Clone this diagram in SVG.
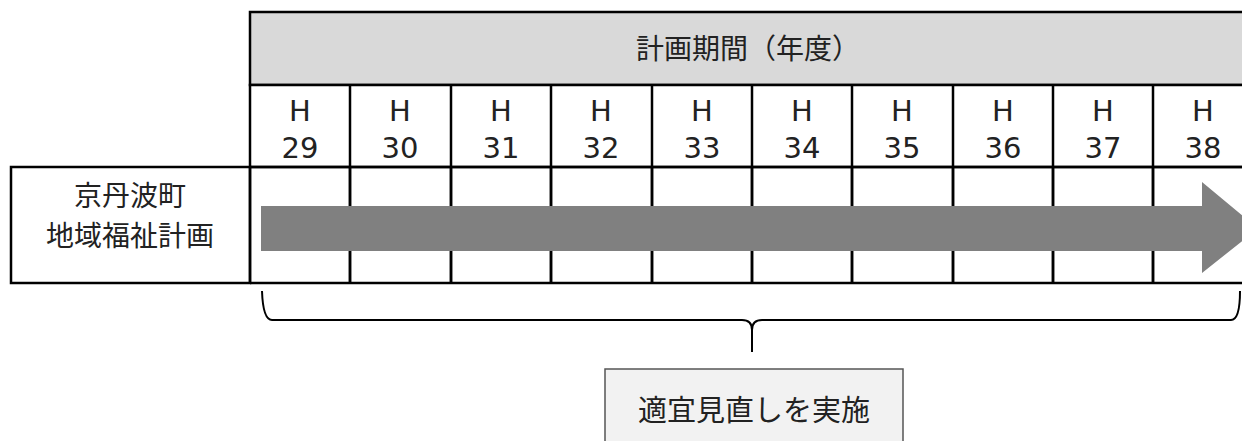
<svg xmlns="http://www.w3.org/2000/svg" width="1242" height="441" viewBox="0 0 1242 441">
<style>
.ln{stroke:#000;stroke-width:2.5}
.jp{font-family:"Noto Sans CJK JP","Noto Sans",sans-serif;fill:#222}
.yr{font-family:"DejaVu Sans","Noto Sans",sans-serif;font-size:29px;fill:#222;text-anchor:middle}
</style>
<rect width="1242" height="441" fill="#fff"/>
<g id="header">
<rect x="250" y="12" width="1004" height="73" fill="#d9d9d9" class="ln"/>
<text class="jp" x="748" y="59" font-size="28" text-anchor="middle">計画期間（年度）</text>
</g>
<g id="years">
<rect x="250" y="85" width="1004" height="82" fill="#fff" class="ln"/>
<path class="ln" fill="none" d="M350 85V283M451 85V283M551 85V283M652 85V283M752 85V283M852 85V283M953 85V283M1053 85V283M1153 85V283"/>
<g>
<text class="yr" x="300" y="121">H</text><text class="yr" x="300" y="158">29</text>
<text class="yr" x="400" y="121">H</text><text class="yr" x="400" y="158">30</text>
<text class="yr" x="501" y="121">H</text><text class="yr" x="501" y="158">31</text>
<text class="yr" x="601" y="121">H</text><text class="yr" x="601" y="158">32</text>
<text class="yr" x="702" y="121">H</text><text class="yr" x="702" y="158">33</text>
<text class="yr" x="802" y="121">H</text><text class="yr" x="802" y="158">34</text>
<text class="yr" x="902" y="121">H</text><text class="yr" x="902" y="158">35</text>
<text class="yr" x="1003" y="121">H</text><text class="yr" x="1003" y="158">36</text>
<text class="yr" x="1103" y="121">H</text><text class="yr" x="1103" y="158">37</text>
<text class="yr" x="1203" y="121">H</text><text class="yr" x="1203" y="158">38</text>
</g>
</g>
<g id="plan-label">
<rect x="11" y="167" width="239" height="116" fill="#fff" class="ln"/>
<text class="jp" x="130" y="206" font-size="28" text-anchor="middle">京丹波町</text>
<text class="jp" x="130" y="246" font-size="28" text-anchor="middle">地域福祉計画</text>
</g>
<g id="plan-row">
<path class="ln" fill="none" d="M250 167H1254M250 283H1254M250 167V283"/>
<path class="ln" fill="none" d="M350 167V283M451 167V283M551 167V283M652 167V283M752 167V283M852 167V283M953 167V283M1053 167V283M1153 167V283"/>
</g>
<g id="arrow">
<path d="M261 206H1202V182L1258 228.5L1202 273V251H261Z" fill="#808080"/>
</g>
<g id="connectors">
<path d="M262 291Q263 320 272 320H742Q752 320 752 330V352M752 330Q752 320 762 320H1231Q1240 320 1240 291" fill="none" stroke="#000" stroke-width="2"/>
</g>
<g id="review">
<rect x="605" y="369" width="298" height="80" fill="#f2f2f2" stroke="#555" stroke-width="1.5"/>
<text class="jp" x="754" y="421" font-size="29" text-anchor="middle">適宜見直しを実施</text>
</g>
</svg>
